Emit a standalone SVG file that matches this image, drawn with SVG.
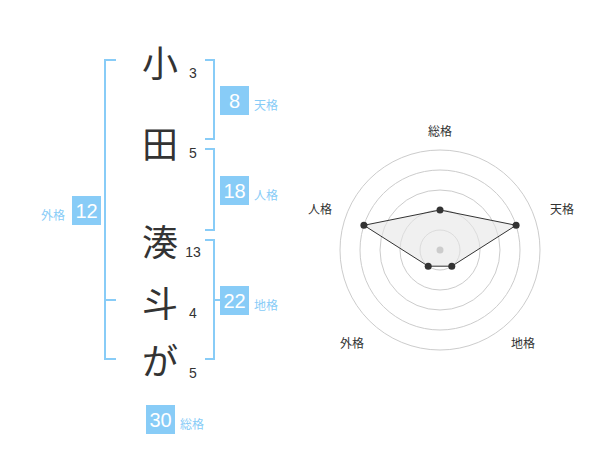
<svg xmlns="http://www.w3.org/2000/svg" width="600" height="470" viewBox="0 0 600 470">
<style>
.kanji{font-family:"Noto Sans CJK JP","Noto Sans CJK SC",sans-serif;font-size:36px;fill:#333;text-anchor:middle;dominant-baseline:central}
.stroke{font-family:"Liberation Sans","Noto Sans",sans-serif;font-size:14px;fill:#333;text-anchor:middle;dominant-baseline:central}
.box{fill:#88ccf7}
.boxnum{font-family:"Liberation Sans","Noto Sans",sans-serif;font-size:20px;fill:#fff;text-anchor:middle;dominant-baseline:central}
.lbl{font-family:"Noto Sans CJK JP","Noto Sans CJK SC",sans-serif;font-size:12px;fill:#88ccf7;dominant-baseline:central}
.br{fill:none;stroke:#88ccf7;stroke-width:2}
.ring{fill:none;stroke:#cccccc;stroke-width:1}
.rl{font-family:"Noto Sans CJK JP","Noto Sans CJK SC",sans-serif;font-size:12px;fill:#333;text-anchor:middle;dominant-baseline:central}
.pt{fill:#333}
</style>
<rect width="600" height="470" fill="#fff"/>
<g id="name">
<text class="kanji" x="160" y="61">小</text>
<text class="kanji" x="160" y="142">田</text>
<text class="kanji" x="160" y="240">湊</text>
<text class="kanji" x="160" y="301">斗</text>
<text class="kanji" x="160" y="359">が</text>
<text class="stroke" x="193" y="73">3</text>
<text class="stroke" x="193" y="153">5</text>
<text class="stroke" x="193" y="252">13</text>
<text class="stroke" x="193" y="313">4</text>
<text class="stroke" x="193" y="373">5</text>
</g>
<g id="connectors">
<path class="br" d="M116,60 H105 V359 H116 M105,300 H116"/>
<path class="br" d="M205,60 H214 V139 H205"/>
<path class="br" d="M205,149 H214 V230 H205"/>
<path class="br" d="M205,240 H214 V359 H205 M214,300 H222"/>
</g>
<g id="tenkaku">
<rect class="box" x="220" y="86" width="29" height="29"/>
<text class="boxnum" x="234.5" y="100.5">8</text>
<text class="lbl" x="254" y="104">天格</text>
</g>
<g id="jinkaku">
<rect class="box" x="220" y="176" width="29" height="29"/>
<text class="boxnum" x="234.5" y="190.5">18</text>
<text class="lbl" x="254" y="194">人格</text>
</g>
<g id="gaikaku">
<rect class="box" x="72" y="196" width="29" height="29"/>
<text class="boxnum" x="86.5" y="210.5">12</text>
<text class="lbl" x="41" y="214">外格</text>
</g>
<g id="chikaku">
<rect class="box" x="220" y="286" width="29" height="29"/>
<text class="boxnum" x="234.5" y="300.5">22</text>
<text class="lbl" x="254" y="304">地格</text>
</g>
<g id="soukaku">
<rect class="box" x="146" y="405" width="29" height="29"/>
<text class="boxnum" x="160.5" y="419.5">30</text>
<text class="lbl" x="180" y="423">総格</text>
</g>
<g id="radar">
<circle class="ring" cx="440" cy="250" r="20"/>
<circle class="ring" cx="440" cy="250" r="40"/>
<circle class="ring" cx="440" cy="250" r="60"/>
<circle class="ring" cx="440" cy="250" r="80"/>
<circle class="ring" cx="440" cy="250" r="100"/>
<polygon points="440,210 516.1,225.3 451.8,266.2 428.2,266.2 363.9,225.3" fill="#e6e6e6" fill-opacity="0.6" stroke="#333" stroke-width="1"/>
<circle cx="440" cy="250" r="3.5" fill="#cccccc"/>
<circle class="pt" cx="440" cy="210" r="3.5"/>
<circle class="pt" cx="516.1" cy="225.3" r="3.5"/>
<circle class="pt" cx="451.8" cy="266.2" r="3.5"/>
<circle class="pt" cx="428.2" cy="266.2" r="3.5"/>
<circle class="pt" cx="363.9" cy="225.3" r="3.5"/>
<text class="rl" x="440" y="130">総格</text>
<text class="rl" x="562" y="208">天格</text>
<text class="rl" x="320" y="208">人格</text>
<text class="rl" x="352" y="342">外格</text>
<text class="rl" x="523" y="342">地格</text>
</g>
</svg>
